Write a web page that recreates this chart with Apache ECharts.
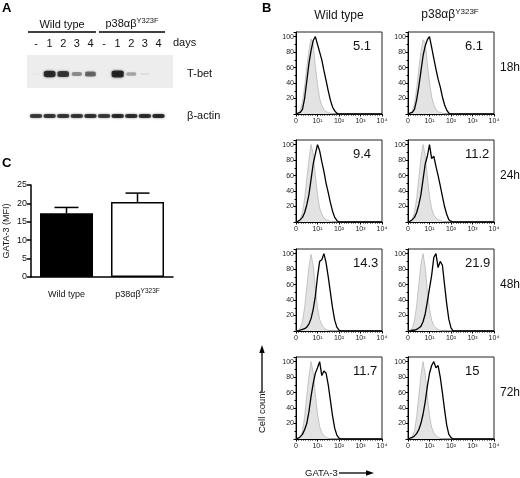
<!DOCTYPE html>
<html><head><meta charset="utf-8">
<script src="https://cdn.jsdelivr.net/npm/echarts@6/dist/echarts.min.js"></script>
<style>html,body{margin:0;padding:0;background:#fff}#c{width:520px;height:478px}</style>
</head><body><div id="c"></div>
<script>
// ---------- Panel A: western blot ----------
const laneLabels = ['-', '1', '2', '3', '4', '-', '1', '2', '3', '4'];
const blotRows = ['T-bet', 'β-actin'];
const tbetIntensity = [0.03, 0.92, 0.85, 0.45, 0.62, 0, 1.0, 0.35, 0.08, 0];
const actinIntensity = [0.85, 0.88, 0.88, 0.88, 0.9, 0.85, 0.95, 0.92, 0.92, 0.95];

// ---------- Panel B: GATA-3 histograms ----------
const histBins = [0, 0.1, 0.2, 0.3, 0.4, 0.5, 0.6, 0.7, 0.8, 0.9, 1.0, 1.1, 1.2, 1.3, 1.4, 1.5, 1.6, 1.7, 1.8, 1.9, 2.0, 2.1, 2.2];
const histTicks = ['0', '10¹', '10²', '10³', '10⁴'];
const groups = ['Wild type', 'p38αβY323F'];
const timepoints = ['18h', '24h', '48h', '72h'];
const mfiWT  = [5.1, 9.4, 14.3, 11.7];
const mfiMut = [6.1, 11.2, 21.9, 15];

const ctl18WT  = [0, 1, 5, 15, 35, 60, 82, 97, 90, 62, 38, 20, 11, 6, 3, 2, 1, 0, 0, 0, 0, 0, 0];
const ctl18Mut = [0, 1, 4, 13, 32, 58, 80, 96, 92, 65, 40, 22, 12, 6, 3, 2, 1, 0, 0, 0, 0, 0, 0];
const ctl24WT  = [0, 1, 4, 12, 30, 55, 80, 100, 88, 60, 35, 18, 10, 5, 3, 2, 1, 0, 0, 0, 0, 0, 0];
const ctl24Mut = [0, 1, 4, 12, 30, 56, 82, 100, 86, 58, 33, 17, 9, 5, 3, 2, 1, 0, 0, 0, 0, 0, 0];
const ctl48WT  = [0, 1, 4, 12, 30, 56, 82, 99, 85, 55, 30, 15, 8, 4, 2, 1, 0, 0, 0, 0, 0, 0, 0];
const ctl48Mut = [0, 1, 4, 13, 32, 60, 86, 100, 82, 52, 28, 14, 7, 4, 2, 1, 0, 0, 0, 0, 0, 0, 0];
const ctl72WT  = [0, 1, 3, 10, 28, 55, 80, 100, 86, 58, 32, 16, 8, 4, 2, 1, 0, 0, 0, 0, 0, 0, 0];
const ctl72Mut = [0, 1, 3, 10, 28, 55, 82, 100, 84, 56, 30, 15, 8, 4, 2, 1, 0, 0, 0, 0, 0, 0, 0];

const gata18WT  = [0, 1, 2, 6, 20, 42, 65, 82, 95, 100, 90, 80, 70, 56, 43, 30, 18, 9, 4, 1, 0, 0, 0];
const gata18Mut = [0, 1, 2, 6, 18, 35, 55, 75, 88, 96, 100, 86, 72, 58, 45, 35, 22, 12, 5, 1, 0, 0, 0];
const gata24WT  = [0, 1, 3, 6, 12, 22, 35, 55, 75, 88, 100, 92, 78, 65, 50, 38, 25, 14, 6, 2, 0, 0, 0];
const gata24Mut = [0, 1, 3, 6, 12, 22, 35, 55, 75, 85, 100, 82, 85, 72, 60, 47, 33, 20, 10, 3, 1, 0, 0];
const gata48WT  = [0, 0, 1, 2, 3, 5, 9, 16, 28, 45, 70, 90, 92, 100, 88, 70, 50, 30, 14, 5, 1, 0, 0];
const gata48Mut = [0, 0, 1, 1, 2, 4, 6, 12, 22, 38, 55, 72, 95, 100, 82, 90, 85, 60, 35, 15, 4, 0, 0];
const gata72WT  = [0, 1, 3, 6, 12, 20, 35, 55, 72, 85, 92, 100, 82, 88, 85, 70, 50, 30, 14, 5, 1, 0, 0];
const gata72Mut = [0, 1, 2, 4, 7, 12, 20, 32, 48, 68, 85, 95, 100, 92, 95, 80, 60, 38, 18, 6, 2, 0, 0];

const controlSets = [[ctl18WT, ctl18Mut], [ctl24WT, ctl24Mut], [ctl48WT, ctl48Mut], [ctl72WT, ctl72Mut]];
const sampleSets  = [[gata18WT, gata18Mut], [gata24WT, gata24Mut], [gata48WT, gata48Mut], [gata72WT, gata72Mut]];

// ---------- Panel C: GATA-3 MFI bars ----------
const barCats = ['Wild type', 'p38αβY323F'];
const barMean = [17.3, 20.4];
const barSem  = [1.6, 2.4];
const barTicks = [0, 5, 10, 15, 20, 25];

// ---------- layout ----------
const FONT = 'Liberation Sans, Arial, Helvetica, sans-serif';
const colLeft = [296, 408];
const rowTop = [32, 140, 249, 357];
const histW = 86, histH = 82;
const ink = '#111';

const grids = [], xAxes = [], yAxes = [], series = [], graphics = [];

// blot grid
grids.push({left: 22.4, top: 53, width: 149.7, height: 84});
xAxes.push({gridIndex: 0, type: 'value', min: -1, max: 10, interval: 1, position: 'top',
  axisLine: {show: false}, axisTick: {show: false}, splitLine: {show: false},
  axisLabel: {fontFamily: FONT, fontSize: 11, color: ink, margin: 4,
    formatter: v => (laneLabels[v] !== undefined ? laneLabels[v] : '')}});
yAxes.push({gridIndex: 0, type: 'category', data: blotRows, inverse: true, position: 'right',
  axisLine: {show: false}, axisTick: {show: false}, splitLine: {show: false},
  axisLabel: {fontFamily: FONT, fontSize: 11, color: ink, margin: 15}});
function bandItem(i, row, a, isActin) {
  const w = isActin ? 12 : 8.5 + 3.5 * a;
  const h = isActin ? 3 + a : 1.8 + 5 * a;
  return {value: [i, row], symbolSize: [w, h], intensity: a,
    itemStyle: {color: 'rgba(12,12,12,' + Math.min(1, a * 1.05).toFixed(2) + ')',
      shadowBlur: 2.5, shadowColor: 'rgba(0,0,0,' + (0.7 * a).toFixed(2) + ')'}};
}
series.push({type: 'scatter', xAxisIndex: 0, yAxisIndex: 0, symbol: 'roundRect', z: 3, silent: true,
  data: tbetIntensity.map((a, i) => bandItem(i, 0, a, false)).filter(d => d.intensity > 0)});
series.push({type: 'scatter', xAxisIndex: 0, yAxisIndex: 0, symbol: 'roundRect', z: 3, silent: true,
  data: actinIntensity.map((a, i) => bandItem(i, 1, a, true))});

// histogram grids
for (let r = 0; r < 4; r++) {
  for (let c = 0; c < 2; c++) {
    const gi = grids.length;
    grids.push({left: colLeft[c], top: rowTop[r], width: histW, height: histH,
      show: true, borderColor: '#222', borderWidth: 1, backgroundColor: 'transparent'});
    xAxes.push({gridIndex: gi, type: 'value', min: 0, max: 4, interval: 1,
      axisLine: {lineStyle: {color: '#000', width: 1}},
      axisTick: {length: 2.5, lineStyle: {color: '#000'}},
      minorTick: {show: true, splitNumber: 9, length: 1.5, lineStyle: {color: '#000'}},
      splitLine: {show: false},
      axisLabel: {fontFamily: FONT, fontSize: 7, color: '#222', margin: 4, formatter: v => histTicks[v]}});
    yAxes.push({gridIndex: gi, type: 'value', min: 0, max: 106, interval: 20,
      axisLine: {show: true, lineStyle: {color: '#000', width: 1}},
      axisTick: {show: true, length: 2.5, lineStyle: {color: '#000'}},
      minorTick: {show: true, splitNumber: 2, length: 1.5, lineStyle: {color: '#000'}},
      splitLine: {show: false},
      axisLabel: {fontFamily: FONT, fontSize: 7, color: '#222', margin: 2,
        formatter: v => (v > 0 && v % 20 === 0 ? String(v) : '')}});
    const toPts = arr => histBins.map((x, i) => [x, arr[i]]).concat([[4, 0]]);
    series.push({type: 'line', xAxisIndex: gi, yAxisIndex: gi, showSymbol: false, symbol: 'none', z: 2, silent: true,
      data: toPts(controlSets[r][c]),
      lineStyle: {color: '#b8b8b8', width: 0.8}, areaStyle: {color: '#e3e3e3', opacity: 1}});
    series.push({type: 'line', xAxisIndex: gi, yAxisIndex: gi, showSymbol: false, symbol: 'none', z: 3, silent: true,
      data: toPts(sampleSets[r][c]),
      lineStyle: {color: '#000', width: 1.3}});
    graphics.push({type: 'text', left: colLeft[c] + 57, top: rowTop[r] + 8,
      style: {text: String(c === 0 ? mfiWT[r] : mfiMut[r]), font: '13px ' + FONT, fill: ink}});
  }
  graphics.push({type: 'text', left: 500, top: rowTop[r] + 30,
    style: {text: timepoints[r], font: '12px ' + FONT, fill: ink}});
}

// bar grid (panel C)
const barGi = grids.length;
grids.push({left: 31, top: 185, width: 142, height: 92});
xAxes.push({gridIndex: barGi, type: 'category', data: barCats,
  axisLine: {lineStyle: {color: '#000', width: 1.5}},
  axisTick: {alignWithLabel: true, length: 4, lineStyle: {color: '#000', width: 1.5}},
  axisLabel: {interval: 0, hideOverlap: false, fontFamily: FONT, fontSize: 9, color: ink, margin: 11,
    formatter: v => (v === barCats[1] ? '{n|p38αβ}{s|Y323F}' : '{n|' + v + '}'),
    rich: {n: {fontFamily: FONT, fontSize: 9, color: ink, lineHeight: 13},
           s: {fontFamily: FONT, fontSize: 6.5, color: ink, verticalAlign: 'top', lineHeight: 13}}}});
yAxes.push({gridIndex: barGi, type: 'value', min: barTicks[0], max: barTicks[barTicks.length - 1], interval: 5,
  axisLine: {show: true, lineStyle: {color: '#000', width: 1.5}},
  axisTick: {show: true, length: 4, lineStyle: {color: '#000', width: 1.5}},
  splitLine: {show: false},
  axisLabel: {fontFamily: FONT, fontSize: 9, color: ink, margin: 4},
  name: 'GATA-3 (MFI)', nameLocation: 'middle', nameGap: 20, nameRotate: 90,
  nameTextStyle: {fontFamily: FONT, fontSize: 9, color: ink}});
series.push({type: 'bar', xAxisIndex: barGi, yAxisIndex: barGi, barWidth: 53, z: 2, silent: true,
  data: barMean.map((m, i) => ({value: m, itemStyle: i === 0
    ? {color: '#000', borderColor: '#000', borderWidth: 1.5}
    : {color: '#fff', borderColor: '#000', borderWidth: 1.5}}))});
series.push({type: 'custom', xAxisIndex: barGi, yAxisIndex: barGi, z: 3, silent: true,
  data: barMean.map((m, i) => [i, m, barSem[i]]),
  renderItem: (params, api) => {
    const x = api.value(0), m = api.value(1), e = api.value(2);
    const base = api.coord([x, m]);
    const top = api.coord([x, m + e]);
    const half = 12;
    const st = {stroke: '#000', lineWidth: 1.5};
    return {type: 'group', children: [
      {type: 'line', shape: {x1: base[0], y1: base[1], x2: top[0], y2: top[1]}, style: st},
      {type: 'line', shape: {x1: top[0] - half, y1: top[1], x2: top[0] + half, y2: top[1]}, style: st}
    ]};
  }});

// ---------- texts / decorations ----------
const sup = {m: {fontFamily: FONT, fontSize: 12, fill: ink, lineHeight: 15},
             s: {fontFamily: FONT, fontSize: 8, fill: ink, verticalAlign: 'top', lineHeight: 15}};
const supA = {m: {fontFamily: FONT, fontSize: 11, fill: ink, lineHeight: 14},
              s: {fontFamily: FONT, fontSize: 7.5, fill: ink, verticalAlign: 'top', lineHeight: 14}};
graphics.push(
  {type: 'rect', z: -1, shape: {x: 27, y: 55, width: 146, height: 33}, style: {fill: '#ededed'}},
  {type: 'text', left: 2, top: 2, style: {text: 'A', font: 'bold 13px ' + FONT, fill: '#000'}},
  {type: 'text', left: 262, top: 2, style: {text: 'B', font: 'bold 13px ' + FONT, fill: '#000'}},
  {type: 'text', left: 2, top: 157, style: {text: 'C', font: 'bold 13px ' + FONT, fill: '#000'}},
  {type: 'text', x: 62, y: 25, style: {text: '{m|' + groups[0] + '}', rich: supA, align: 'center', verticalAlign: 'middle'}},
  {type: 'text', x: 132, y: 24, style: {text: '{m|p38αβ}{s|Y323F}', rich: supA, align: 'center', verticalAlign: 'middle'}},
  {type: 'line', shape: {x1: 28, y1: 32, x2: 96, y2: 32}, style: {stroke: '#000', lineWidth: 1.5}},
  {type: 'line', shape: {x1: 99, y1: 32, x2: 165, y2: 32}, style: {stroke: '#000', lineWidth: 1.5}},
  {type: 'text', x: 173, y: 43, style: {text: 'days', font: '11px ' + FONT, fill: ink, verticalAlign: 'middle'}},
  {type: 'text', x: 339, y: 16, style: {text: '{m|' + groups[0] + '}', rich: sup, align: 'center', verticalAlign: 'middle'}},
  {type: 'text', x: 450, y: 15, style: {text: '{m|p38αβ}{s|Y323F}', rich: sup, align: 'center', verticalAlign: 'middle'}},
  {type: 'text', x: 262, y: 412, rotation: Math.PI / 2,
    style: {text: 'Cell count', font: '9.5px ' + FONT, fill: ink, align: 'center', verticalAlign: 'middle'}},
  {type: 'line', shape: {x1: 262, y1: 392, x2: 262, y2: 352}, style: {stroke: '#000', lineWidth: 1.3}},
  {type: 'polygon', shape: {points: [[262, 345], [259.3, 353], [264.7, 353]]}, style: {fill: '#000'}},
  {type: 'text', x: 305, y: 473, style: {text: 'GATA-3', font: '9.5px ' + FONT, fill: ink, verticalAlign: 'middle'}},
  {type: 'line', shape: {x1: 339, y1: 473, x2: 367, y2: 473}, style: {stroke: '#000', lineWidth: 1.3}},
  {type: 'polygon', shape: {points: [[374, 473], [366, 470.3], [366, 475.7]]}, style: {fill: '#000'}}
);

const chart = echarts.init(document.getElementById('c'), null, {renderer: 'canvas'});
chart.setOption({
  animation: false,
  backgroundColor: '#fff',
  textStyle: {fontFamily: FONT},
  grid: grids, xAxis: xAxes, yAxis: yAxes, series: series,
  graphic: {elements: graphics}
});
</script></body></html>
